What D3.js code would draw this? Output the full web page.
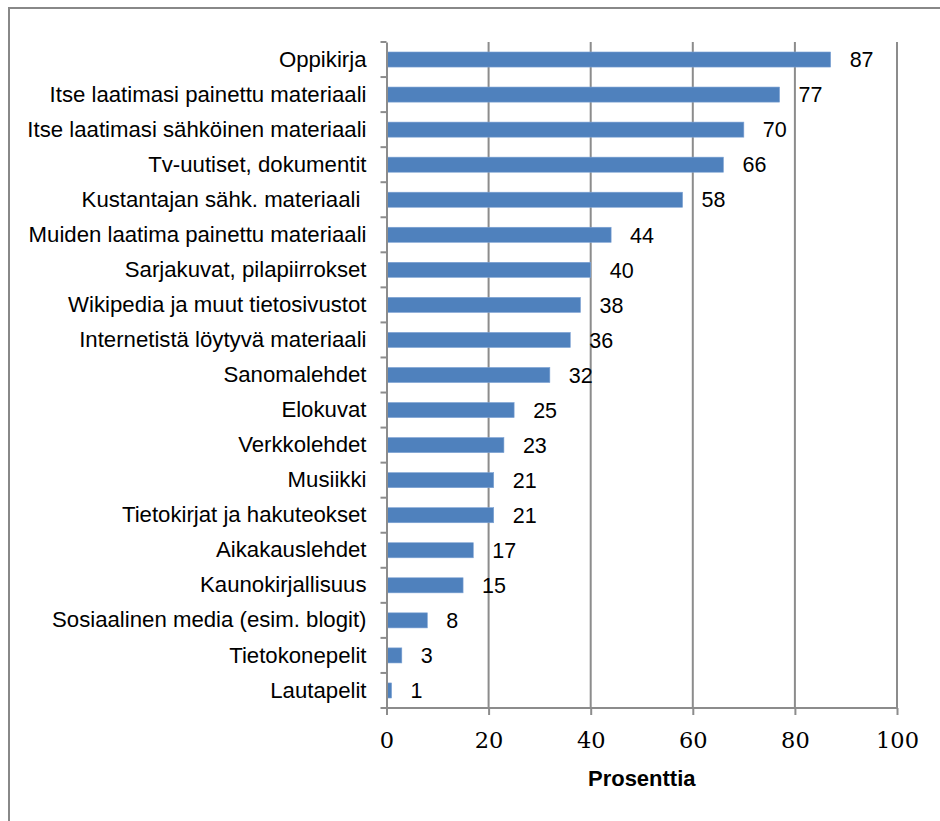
<!DOCTYPE html>
<html>
<head>
<meta charset="utf-8">
<script src="https://cdn.jsdelivr.net/npm/d3@7"></script>
<style>
  body { margin: 0; background: #fff; }
</style>
</head>
<body>
<script>
let w = 940;
let h = 821;

let categories = [
  "Oppikirja",
  "Itse laatimasi painettu materiaali",
  "Itse laatimasi sähköinen materiaali",
  "Tv-uutiset, dokumentit",
  "Kustantajan sähk. materiaali ",
  "Muiden laatima painettu materiaali",
  "Sarjakuvat, pilapiirrokset",
  "Wikipedia ja muut tietosivustot",
  "Internetistä löytyvä materiaali",
  "Sanomalehdet",
  "Elokuvat",
  "Verkkolehdet",
  "Musiikki",
  "Tietokirjat ja hakuteokset",
  "Aikakauslehdet",
  "Kaunokirjallisuus",
  "Sosiaalinen media (esim. blogit)",
  "Tietokonepelit",
  "Lautapelit"
];
let values = [87, 77, 70, 66, 58, 44, 40, 38, 36, 32, 25, 23, 21, 21, 17, 15, 8, 3, 1];
let xTicks = [0, 20, 40, 60, 80, 100];
let xTitle = "Prosenttia";

let pLeft = 386.5, pRight = 897, pTop = 42, pBottom = 708;

let svg = d3.select("body")
            .append("svg")
            .attr("width", w)
            .attr("height", h);

// outer frame
svg.append("rect")
   .attr("x", 9).attr("y", 8)
   .attr("width", w + 10).attr("height", h + 10)
   .attr("fill", "none")
   .attr("stroke", "#888")
   .attr("stroke-width", 2);

let x = d3.scaleLinear().domain([0, 100]).range([pLeft, pRight]);
let y = d3.scaleBand().domain(categories).range([pTop, pBottom]).paddingInner(0.57).paddingOuter(0.285);
let yb = d3.scaleBand().domain(categories).range([pTop, pBottom]);

// vertical grid lines
svg.selectAll("line.grid")
   .data(xTicks.slice(1))
   .enter()
   .append("line")
   .attr("class", "grid")
   .attr("x1", d => x(d)).attr("x2", d => x(d))
   .attr("y1", pTop).attr("y2", pBottom)
   .attr("stroke", "#8c8c8c")
   .attr("stroke-width", 2);

// bars
svg.selectAll("rect.bar")
   .data(values)
   .enter()
   .append("rect")
   .attr("class", "bar")
   .attr("x", x(0))
   .attr("y", (d, i) => y(categories[i]))
   .attr("width", d => x(d) - x(0))
   .attr("height", y.bandwidth())
   .attr("fill", "#4f81bd")
   .attr("stroke", "#7ea3d4")
   .attr("stroke-width", 0.6);

// value labels
svg.selectAll("text.val")
   .data(values)
   .enter()
   .append("text")
   .attr("class", "val")
   .attr("x", d => x(d) + 19)
   .attr("y", (d, i) => y(categories[i]) + y.bandwidth() / 2)
   .attr("dy", "0.36em")
   .attr("font-family", "Liberation Sans, Arial, sans-serif")
   .attr("font-size", 21.5)
   .attr("fill", "#000")
   .text(d => d);

// y axis
let yAxis = d3.axisLeft(yb).tickSize(0).tickPadding(20);
let gy = svg.append("g")
   .attr("transform", `translate(${pLeft},0)`)
   .call(yAxis);
gy.select(".domain").attr("stroke", "#8c8c8c").attr("stroke-width", 2);
gy.selectAll("text")
  .attr("font-family", "Liberation Sans, Arial, sans-serif")
  .attr("font-size", 22.2)
  .attr("fill", "#000")
  .style("white-space", "pre");
// category separator ticks
svg.selectAll("line.ytick")
   .data(categories.concat(["_end"]))
   .enter()
   .append("line")
   .attr("class", "ytick")
   .attr("x1", pLeft - 6).attr("x2", pLeft)
   .attr("y1", (d, i) => pTop + i * yb.step())
   .attr("y2", (d, i) => pTop + i * yb.step())
   .attr("stroke", "#8c8c8c")
   .attr("stroke-width", 2);

// x axis
let xAxis = d3.axisBottom(x).tickValues(xTicks).tickSize(7).tickPadding(17);
let gx = svg.append("g")
   .attr("transform", `translate(0,${pBottom})`)
   .call(xAxis);
gx.select(".domain").attr("stroke", "#8c8c8c").attr("stroke-width", 2)
  .attr("d", `M${pLeft},0H${pRight}`);
gx.selectAll(".tick line").attr("stroke", "#8c8c8c").attr("stroke-width", 2);
gx.selectAll("text")
  .attr("font-family", "DejaVu Serif, serif")
  .attr("font-size", 22.5)
  .attr("fill", "#000");

svg.append("text")
   .attr("x", (pLeft + pRight) / 2)
   .attr("y", 786)
   .attr("text-anchor", "middle")
   .attr("font-family", "Liberation Sans, Arial, sans-serif")
   .attr("font-weight", "bold")
   .attr("font-size", 22)
   .text(xTitle);
</script>
</body>
</html>
